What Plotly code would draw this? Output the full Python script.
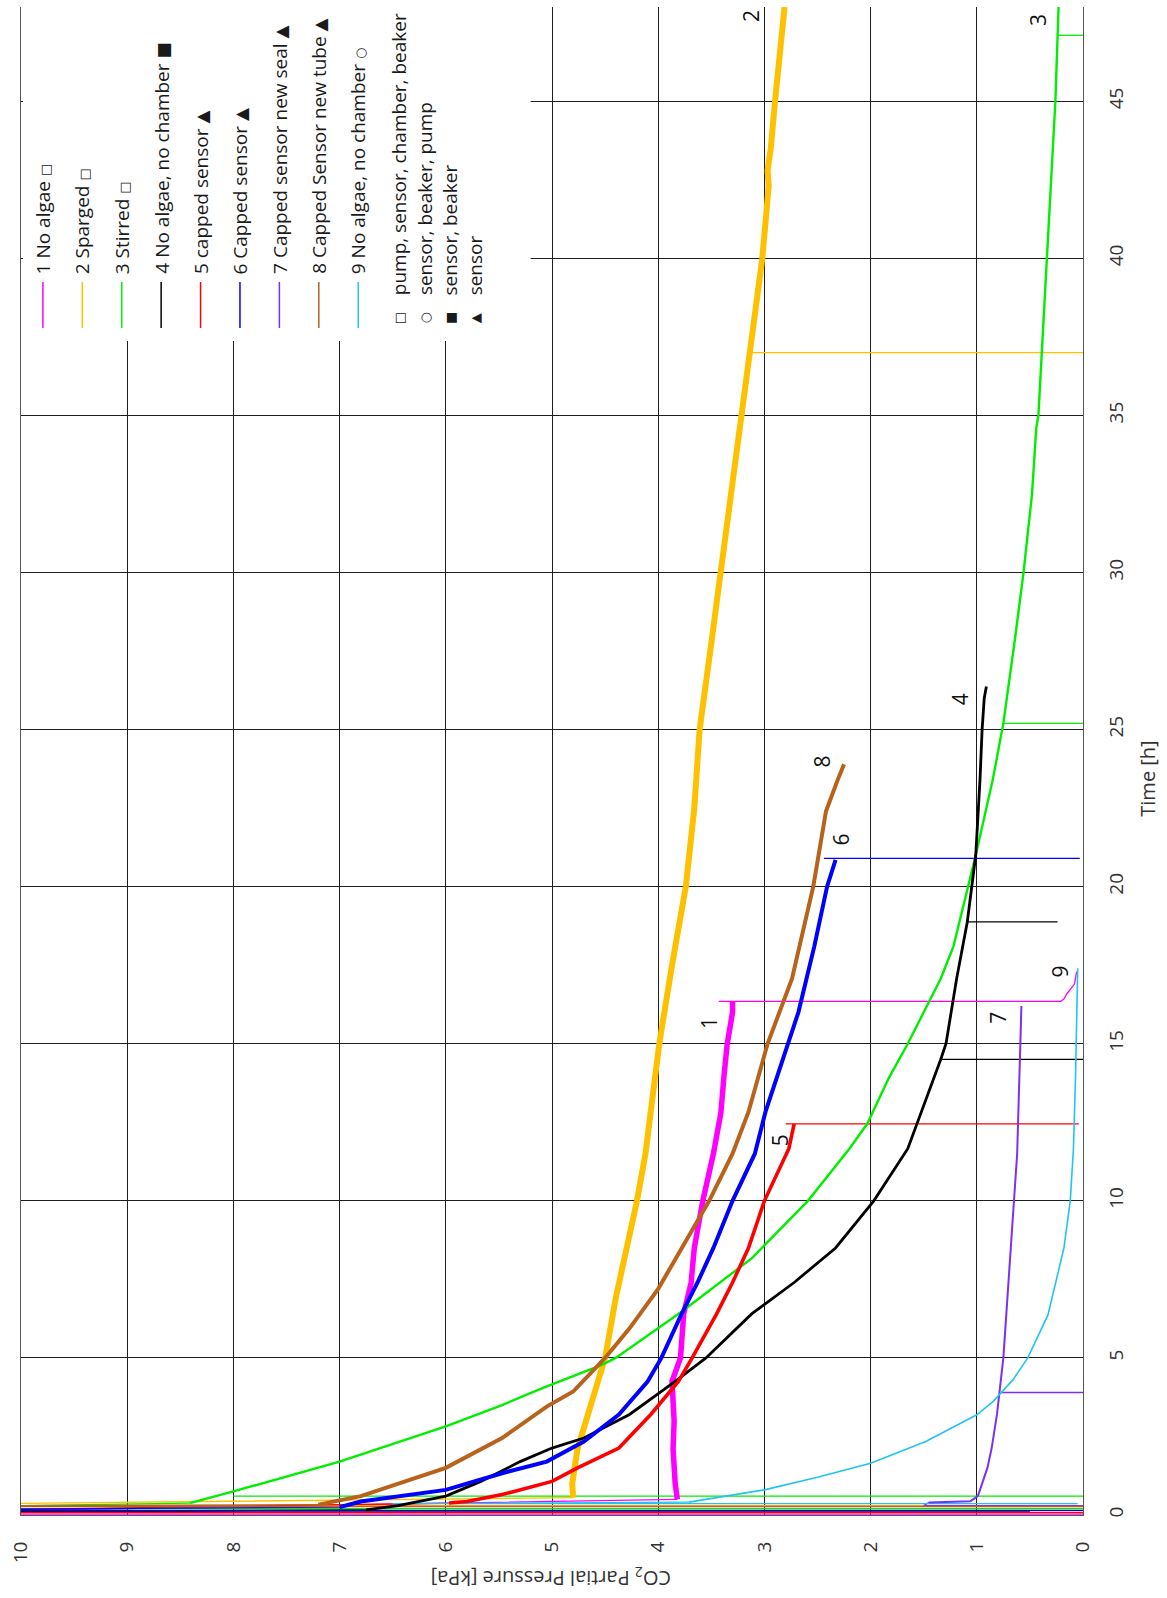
import plotly.graph_objects as go

# ---- CO2 partial pressure [kPa] versus time [h], nine runs ----
SERIES_NAMES = [
    "1 No algae", "2 Sparged", "3 Stirred", "4 No algae, no chamber", "5 capped sensor",
    "6 Capped sensor", "7 Capped sensor new seal", "8 Capped Sensor new tube",
    "9 No algae, no chamber",
]
SERIES_SETUP = ["\u25a1", "\u25a1", "\u25a1", "\u25a0", "\u25b2", "\u25b2", "\u25b2", "\u25b2", "\u25cb"]
SERIES_COLORS = ["#FF00FF", "#FFC000", "#00EE00", "#000000", "#FF0000",
                 "#0000FF", "#7B2FF7", "#B8621B", "#22C3F3"]
SERIES_WIDTHS = [5.5, 6.0, 2.4, 2.8, 3.6, 4.0, 2.0, 4.0, 1.6]

# main curves: time [h] and pressure [kPa]
S1_T = [0.50, 1.0, 2.1, 3.0, 4.25, 5.0, 6.4, 7.4, 8.5, 10.0, 11.5, 12.8, 14.0, 15.0, 16.0, 16.35]
S1_P = [3.82, 3.84, 3.86, 3.85, 3.87, 3.79, 3.76, 3.69, 3.66, 3.58, 3.48, 3.41, 3.38, 3.35, 3.30, 3.30]

S2_T = [0.55, 1.0, 2.1, 3.2, 4.0, 5.0, 6.9, 8.5, 10.0, 11.5, 13.0, 15.0, 17.5, 20.0, 22.5, 25.0,
        27.5, 30.0, 32.5, 35.0, 37.5, 40.0, 41.5, 42.3, 42.8, 43.5, 45.0, 46.5, 48.0]
S2_P = [4.80, 4.81, 4.76, 4.66, 4.58, 4.50, 4.40, 4.29, 4.20, 4.12, 4.07, 3.99, 3.87, 3.74, 3.66, 3.61,
        3.51, 3.41, 3.31, 3.21, 3.11, 3.02, 2.98, 2.96, 2.97, 2.94, 2.90, 2.85, 2.81]

S3_T = [0.38, 0.75, 1.7, 2.82, 3.5, 4.04, 4.78, 5.0, 6.47, 8.17, 10.0, 11.66, 12.46, 13.9, 15.0,
        16.0, 17.07, 18.1, 20.0, 21.0, 23.4, 25.2, 27.9, 30.0, 32.5, 34.6, 35.0, 37.5, 40.0, 42.5,
        45.0, 48.0]
S3_P = [8.41, 8.0, 7.0, 6.0, 5.47, 5.09, 4.53, 4.40, 3.78, 3.12, 2.59, 2.20, 2.03, 1.83, 1.65,
        1.50, 1.34, 1.22, 1.08, 1.01, 0.85, 0.75, 0.64, 0.56, 0.48, 0.44, 0.42, 0.38, 0.34, 0.30,
        0.26, 0.23]

S4_T = [0.16, 0.3, 0.6, 1.07, 1.7, 2.13, 2.45, 3.2, 4.25, 5.0, 6.4, 7.4, 8.5, 10.0, 11.66, 12.83,
        14.5, 15.0, 17.07, 18.87, 20.0, 21.0, 23.4, 25.0, 26.0, 26.37]
S4_P = [6.75, 6.45, 6.0, 5.67, 5.3, 5.0, 4.70, 4.27, 3.84, 3.55, 3.12, 2.72, 2.33, 1.97, 1.65, 1.52,
        1.34, 1.29, 1.19, 1.09, 1.05, 1.01, 0.97, 0.95, 0.93, 0.91]

S5_T = [0.38, 0.43, 0.65, 1.07, 1.5, 2.13, 3.2, 4.25, 5.0, 6.4, 7.4, 8.5, 10.0, 11.66, 12.45]
S5_P = [5.97, 5.80, 5.47, 5.0, 4.76, 4.37, 4.07, 3.81, 3.68, 3.45, 3.30, 3.15, 3.00, 2.77, 2.72]

S6_T = [0.25, 0.43, 0.8, 1.33, 1.7, 2.34, 3.2, 4.25, 5.0, 6.4, 7.4, 8.5, 10.0, 11.5, 12.83, 15.0,
        16.0, 18.1, 20.0, 20.85]
S6_P = [7.0, 6.8, 6.0, 5.47, 5.05, 4.70, 4.37, 4.10, 3.97, 3.78, 3.63, 3.48, 3.30, 3.09, 2.99, 2.78,
        2.68, 2.53, 2.41, 2.33]

S7_T = [0.40, 0.44, 0.6, 1.5, 2.13, 3.2, 5.0, 7.43, 10.0, 11.5, 15.0, 16.2]
S7_P = [1.45, 1.06, 0.99, 0.90, 0.86, 0.81, 0.75, 0.70, 0.65, 0.62, 0.59, 0.58]

S8_T = [0.33, 0.6, 1.5, 2.45, 3.45, 3.93, 5.0, 5.94, 7.2, 8.5, 10.0, 11.5, 12.83, 15.0, 17.07,
        20.0, 22.4, 23.4, 23.9]
S8_P = [7.2, 6.8, 6.0, 5.47, 5.05, 4.80, 4.50, 4.27, 4.00, 3.78, 3.52, 3.30, 3.15, 2.97, 2.74,
        2.54, 2.42, 2.31, 2.25]

S9_T = [0.41, 0.6, 0.8, 1.2, 1.65, 2.34, 3.19, 3.6, 4.3, 5.0, 6.37, 8.49, 10.0, 11.66, 14.0, 17.4]
S9_P = [3.71, 3.35, 3.0, 2.5, 2.0, 1.48, 1.0, 0.85, 0.66, 0.52, 0.33, 0.18, 0.12, 0.09, 0.07, 0.05]

# start-up surge of each run: time, lowest and highest reading
START_T = [0.03, 0.30, 0.20, 0.10, 0.08, 0.15, 0.30, 0.27, 0.36]
START_LOW = [0.0, 0.08, 0.0, 0.5, 0.0, 0.0, 0.0, 0.0, 0.05]
START_HIGH = [12.0, 12.0, 12.0, 12.0, 12.0, 12.0, 1.5, 12.0, 6.5]

# short dropouts: series index, time, reading before and at the dropout
DROP_SERIES = [1, 2, 2, 2, 3, 3, 4, 5, 6]
DROP_T = [37.0, 0.60, 25.2, 47.1, 14.5, 18.88, 12.45, 20.9, 3.9]
DROP_FROM = [3.15, 8.0, 0.75, 0.24, 1.34, 1.09, 2.80, 2.44, 0.77]
DROP_TO = [0.0, 0.0, 0.0, 0.0, 0.0, 0.24, 0.04, 0.03, 0.0]

# run 1 shut-down trace
S1_TAIL_T = [16.35, 16.35, 16.42, 16.6, 16.9, 17.3]
S1_TAIL_P = [3.43, 0.21, 0.18, 0.15, 0.08, 0.06]

# run numbers written next to the curves
RUN_LABELS = ["1", "2", "3", "4", "5", "6", "7", "8", "9"]
RUN_LABEL_T = [15.67, 47.7, 47.6, 25.96, 11.94, 21.5, 15.83, 23.98, 17.29]
RUN_LABEL_P = [3.52, 3.12, 0.43, 1.15, 2.85, 2.28, 0.80, 2.46, 0.22]

KEY_SYMBOLS = ["\u25a1", "\u25cb", "\u25a0", "\u25b2"]
KEY_TEXTS = ["pump, sensor, chamber, beaker", "sensor, beaker, pump", "sensor, beaker", "sensor"]

X_TICKS = list(range(0, 11))
Y_TICKS = list(range(0, 50, 5))

MAIN_T = [S1_T, S2_T, S3_T, S4_T, S5_T, S6_T, S7_T, S8_T, S9_T]
MAIN_P = [S1_P, S2_P, S3_P, S4_P, S5_P, S6_P, S7_P, S8_P, S9_P]

# ---- page geometry (pixels) ----
W, H = 1167, 1598
L, R, T, B = 16, 84, 7, 83
PW, PH = W - L - R, H - T - B
FONT = "'Open Sans', 'Noto Sans', 'DejaVu Sans', sans-serif"


def px(xp):
    return (xp - L) / PW


def py(yp):
    return (H - B - yp) / PH


def symbol_span(sym):
    # hollow symbols are drawn smaller than the filled ones
    size = 13 if sym in ("\u25a1", "\u25cb") else 17
    return '<span style="font-family:DejaVu Sans;font-size:%dpx">%s</span>' % (size, sym)


fig = go.Figure()

# thin start-up and dropout lines
for i in range(9):
    xs = [START_LOW[i], START_HIGH[i], MAIN_P[i][0]]
    ys = [START_T[i], START_T[i], MAIN_T[i][0]]
    for s, t, a, b in zip(DROP_SERIES, DROP_T, DROP_FROM, DROP_TO):
        if s == i:
            xs += [None, a, b]
            ys += [None, t, t]
    if i == 0:
        xs += [None] + S1_TAIL_P
        ys += [None] + S1_TAIL_T
    fig.add_trace(go.Scatter(x=xs, y=ys, mode="lines", showlegend=False, hoverinfo="skip",
                             line=dict(color=SERIES_COLORS[i], width=1.3)))

# main curves
for i in range(9):
    fig.add_trace(go.Scatter(x=MAIN_P[i], y=MAIN_T[i], mode="lines", name=SERIES_NAMES[i],
                             showlegend=False,
                             line=dict(color=SERIES_COLORS[i], width=SERIES_WIDTHS[i])))

shapes = []
annotations = []

# legend panel in the upper left corner
shapes.append(dict(type="rect", xref="paper", yref="paper", layer="above",
                   x0=px(L + 2), x1=px(528), y0=py(341), y1=1.0,
                   fillcolor="white", line=dict(width=0)))
for i in range(9):
    xc = 38 + 39.6 * i
    shapes.append(dict(type="line", xref="paper", yref="paper", layer="above",
                       x0=px(xc), x1=px(xc), y0=py(328), y1=py(282),
                       line=dict(color=SERIES_COLORS[i], width=1.5)))
    annotations.append(dict(xref="paper", yref="paper", x=px(xc), y=py(276),
                            text=SERIES_NAMES[i] + " " + symbol_span(SERIES_SETUP[i]),
                            textangle=-90, showarrow=False,
                            xanchor="center", yanchor="bottom",
                            font=dict(family=FONT, size=19, color="#1a1a1a")))
for k in range(4):
    xc = 396 + 25.5 * k
    annotations.append(dict(xref="paper", yref="paper", x=px(xc), y=py(318),
                            text=KEY_SYMBOLS[k], textangle=-90, showarrow=False,
                            xanchor="center", yanchor="middle",
                            font=dict(family="DejaVu Sans", size=13, color="#1a1a1a")))
    annotations.append(dict(xref="paper", yref="paper", x=px(xc), y=py(297),
                            text=KEY_TEXTS[k], textangle=-90, showarrow=False,
                            xanchor="center", yanchor="bottom",
                            font=dict(family=FONT, size=19, color="#1a1a1a")))

# run numbers
for lab, t, p in zip(RUN_LABELS, RUN_LABEL_T, RUN_LABEL_P):
    annotations.append(dict(x=p, y=t, xref="x", yref="y", text=lab, textangle=-90,
                            showarrow=False, font=dict(family=FONT, size=21, color="#111")))

# axis titles
annotations.append(dict(xref="paper", yref="paper", x=px(549), y=py(1578),
                        text="CO<sub>2</sub> Partial Pressure [kPa]", textangle=180,
                        showarrow=False, xanchor="center", yanchor="middle",
                        font=dict(family=FONT, size=20, color="#333")))
annotations.append(dict(xref="paper", yref="paper", x=px(1147), y=py(779),
                        text="Time [h]", textangle=-90, showarrow=False,
                        xanchor="center", yanchor="middle",
                        font=dict(family=FONT, size=20, color="#333")))

fig.update_layout(
    width=W, height=H,
    margin=dict(l=L, r=R, t=T, b=B, pad=0),
    paper_bgcolor="white", plot_bgcolor="white",
    showlegend=False,
    shapes=shapes, annotations=annotations,
    xaxis=dict(range=[10, 0], tickvals=X_TICKS, ticktext=[str(v) for v in X_TICKS],
               tickangle=-90, showgrid=True, gridcolor="#1e1e1e", gridwidth=1.2,
               zeroline=False, showline=True, linecolor="#555", linewidth=1,
               ticks="", ticklabelstandoff=18,
               tickfont=dict(family=FONT, size=19, color="#333")),
    yaxis=dict(range=[0, 48], tickvals=Y_TICKS, ticktext=[str(v) for v in Y_TICKS],
               side="right", tickangle=-90, showgrid=True, gridcolor="#1e1e1e", gridwidth=1.2,
               zeroline=False, showline=True, mirror=True, linecolor="#555", linewidth=1,
               ticks="", ticklabelstandoff=16,
               tickfont=dict(family=FONT, size=19, color="#333")),
)

fig.write_html("out.html")
